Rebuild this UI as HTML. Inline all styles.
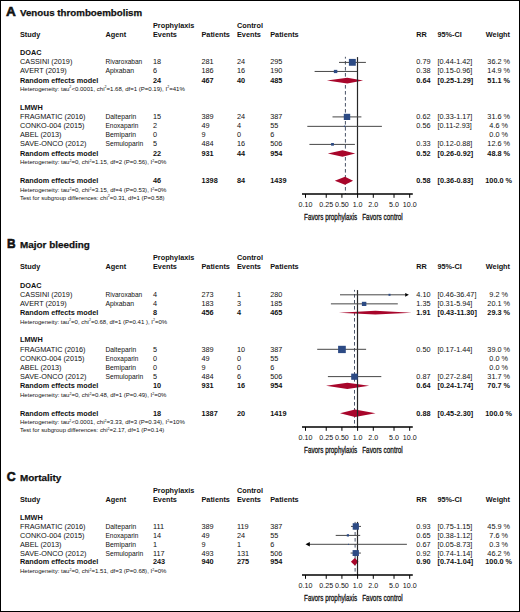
<!DOCTYPE html>
<html><head><meta charset="utf-8"><style>
html,body{margin:0;padding:0;background:#fff;}
#f{position:relative;width:518px;height:610px;border:1px solid #000;overflow:hidden;}
svg{position:absolute;left:-1px;top:-1px;}
text{font-family:"Liberation Sans",sans-serif;fill:#111;}
</style></head><body><div id="f">
<svg width="520" height="612" viewBox="0 0 520 612">
<text x="6.1" y="16" font-size="13.6" font-weight="bold" stroke="#111" stroke-width="0.6">A</text>
<text x="20" y="16" font-size="9.6" font-weight="bold" textLength="122.2" lengthAdjust="spacingAndGlyphs" stroke="#111" stroke-width="0.25">Venous thromboembolism</text>
<text x="153" y="28" font-size="7.3" font-weight="bold">Prophylaxis</text>
<text x="237" y="28" font-size="7.3" font-weight="bold">Control</text>
<text x="20" y="37" font-size="7.3" font-weight="bold">Study</text>
<text x="105.5" y="37" font-size="7.3" font-weight="bold">Agent</text>
<text x="153" y="37" font-size="7.3" font-weight="bold">Events</text>
<text x="201.5" y="37" font-size="7.3" font-weight="bold">Patients</text>
<text x="237" y="37" font-size="7.3" font-weight="bold">Events</text>
<text x="270.25" y="37" font-size="7.3" font-weight="bold">Patients</text>
<text x="416.3" y="37" font-size="7.3" font-weight="bold">RR</text>
<text x="437.5" y="37" font-size="7.3" font-weight="bold">95%-CI</text>
<text x="510" y="37" font-size="7.3" font-weight="bold" text-anchor="end">Weight</text>
<text x="20" y="55.2" font-size="7.3" font-weight="bold">DOAC</text>
<text x="20" y="64.4" font-size="7.3">CASSINI (2019)</text>
<text x="105.5" y="64.4" font-size="7.3" textLength="36.7" lengthAdjust="spacingAndGlyphs">Rivaroxaban</text>
<text x="153" y="64.4" font-size="7.3">18</text>
<text x="201.5" y="64.4" font-size="7.3">281</text>
<text x="237" y="64.4" font-size="7.3">24</text>
<text x="270.25" y="64.4" font-size="7.3">295</text>
<text x="416.3" y="64.4" font-size="7.3">0.79</text>
<text x="437.5" y="64.4" font-size="7.3">[0.44-1.42]</text>
<text x="498.7" y="64.4" font-size="7.3" text-anchor="middle">36.2 %</text>
<text x="20" y="73.3" font-size="7.3">AVERT (2019)</text>
<text x="105.5" y="73.3" font-size="7.3" textLength="28.5" lengthAdjust="spacingAndGlyphs">Apixaban</text>
<text x="153" y="73.3" font-size="7.3">6</text>
<text x="201.5" y="73.3" font-size="7.3">186</text>
<text x="237" y="73.3" font-size="7.3">16</text>
<text x="270.25" y="73.3" font-size="7.3">190</text>
<text x="416.3" y="73.3" font-size="7.3">0.38</text>
<text x="437.5" y="73.3" font-size="7.3">[0.15-0.96]</text>
<text x="498.7" y="73.3" font-size="7.3" text-anchor="middle">14.9 %</text>
<text x="20" y="82.7" font-size="7.3" font-weight="bold">Random effects model</text>
<text x="153" y="82.7" font-size="7.3" font-weight="bold">24</text>
<text x="201.5" y="82.7" font-size="7.3" font-weight="bold">467</text>
<text x="237" y="82.7" font-size="7.3" font-weight="bold">40</text>
<text x="270.25" y="82.7" font-size="7.3" font-weight="bold">485</text>
<text x="416.3" y="82.7" font-size="7.3" font-weight="bold">0.64</text>
<text x="437.5" y="82.7" font-size="7.3" font-weight="bold">[0.25-1.29]</text>
<text x="498.7" y="82.7" font-size="7.3" text-anchor="middle" font-weight="bold">51.1 %</text>
<text x="20" y="90.7" font-size="6.0" textLength="164.8" lengthAdjust="spacingAndGlyphs">Heterogeneity: tau<tspan dy="-2.3" font-size="3.6">2</tspan><tspan dy="2.3">&lt;0.0001, chi</tspan><tspan dy="-2.3" font-size="3.6">2</tspan><tspan dy="2.3">=1.68, df=1 (P=0.19), I</tspan><tspan dy="-2.3" font-size="3.6">2</tspan><tspan dy="2.3">=41%</tspan></text>
<text x="20" y="110" font-size="7.3" font-weight="bold">LMWH</text>
<text x="20" y="119.3" font-size="7.3">FRAGMATIC (2016)</text>
<text x="105.5" y="119.3" font-size="7.3" textLength="30.7" lengthAdjust="spacingAndGlyphs">Dalteparin</text>
<text x="153" y="119.3" font-size="7.3">15</text>
<text x="201.5" y="119.3" font-size="7.3">389</text>
<text x="237" y="119.3" font-size="7.3">24</text>
<text x="270.25" y="119.3" font-size="7.3">387</text>
<text x="416.3" y="119.3" font-size="7.3">0.62</text>
<text x="437.5" y="119.3" font-size="7.3">[0.33-1.17]</text>
<text x="498.7" y="119.3" font-size="7.3" text-anchor="middle">31.6 %</text>
<text x="20" y="128.3" font-size="7.3">CONKO-004 (2015)</text>
<text x="105.5" y="128.3" font-size="7.3" textLength="32.9" lengthAdjust="spacingAndGlyphs">Enoxaparin</text>
<text x="153" y="128.3" font-size="7.3">2</text>
<text x="201.5" y="128.3" font-size="7.3">49</text>
<text x="237" y="128.3" font-size="7.3">4</text>
<text x="270.25" y="128.3" font-size="7.3">55</text>
<text x="416.3" y="128.3" font-size="7.3">0.56</text>
<text x="437.5" y="128.3" font-size="7.3">[0.11-2.93]</text>
<text x="498.7" y="128.3" font-size="7.3" text-anchor="middle">4.6 %</text>
<text x="20" y="137.3" font-size="7.3">ABEL (2013)</text>
<text x="105.5" y="137.3" font-size="7.3" textLength="30.5" lengthAdjust="spacingAndGlyphs">Bemiparin</text>
<text x="153" y="137.3" font-size="7.3">0</text>
<text x="201.5" y="137.3" font-size="7.3">9</text>
<text x="237" y="137.3" font-size="7.3">0</text>
<text x="270.25" y="137.3" font-size="7.3">6</text>
<text x="498.7" y="137.3" font-size="7.3" text-anchor="middle">0.0 %</text>
<text x="20" y="146.4" font-size="7.3">SAVE-ONCO (2012)</text>
<text x="105.5" y="146.4" font-size="7.3" textLength="37.75" lengthAdjust="spacingAndGlyphs">Semuloparin</text>
<text x="153" y="146.4" font-size="7.3">5</text>
<text x="201.5" y="146.4" font-size="7.3">484</text>
<text x="237" y="146.4" font-size="7.3">16</text>
<text x="270.25" y="146.4" font-size="7.3">506</text>
<text x="416.3" y="146.4" font-size="7.3">0.33</text>
<text x="437.5" y="146.4" font-size="7.3">[0.12-0.88]</text>
<text x="498.7" y="146.4" font-size="7.3" text-anchor="middle">12.6 %</text>
<text x="20" y="155.5" font-size="7.3" font-weight="bold">Random effects model</text>
<text x="153" y="155.5" font-size="7.3" font-weight="bold">22</text>
<text x="201.5" y="155.5" font-size="7.3" font-weight="bold">931</text>
<text x="237" y="155.5" font-size="7.3" font-weight="bold">44</text>
<text x="270.25" y="155.5" font-size="7.3" font-weight="bold">954</text>
<text x="416.3" y="155.5" font-size="7.3" font-weight="bold">0.52</text>
<text x="437.5" y="155.5" font-size="7.3" font-weight="bold">[0.26-0.92]</text>
<text x="498.7" y="155.5" font-size="7.3" text-anchor="middle" font-weight="bold">48.8 %</text>
<text x="20" y="164.3" font-size="6.0" textLength="146.5" lengthAdjust="spacingAndGlyphs">Heterogeneity: tau<tspan dy="-2.3" font-size="3.6">2</tspan><tspan dy="2.3">=0, chi</tspan><tspan dy="-2.3" font-size="3.6">2</tspan><tspan dy="2.3">=1.15, df=2 (P=0.56), I</tspan><tspan dy="-2.3" font-size="3.6">2</tspan><tspan dy="2.3">=0%</tspan></text>
<text x="20" y="183" font-size="7.3" font-weight="bold">Random effects model</text>
<text x="153" y="183" font-size="7.3" font-weight="bold">46</text>
<text x="201.5" y="183" font-size="7.3" font-weight="bold">1398</text>
<text x="237" y="183" font-size="7.3" font-weight="bold">84</text>
<text x="270.25" y="183" font-size="7.3" font-weight="bold">1439</text>
<text x="416.3" y="183" font-size="7.3" font-weight="bold">0.58</text>
<text x="437.5" y="183" font-size="7.3" font-weight="bold">[0.36-0.83]</text>
<text x="498.7" y="183" font-size="7.3" text-anchor="middle" font-weight="bold">100.0 %</text>
<text x="20" y="192.2" font-size="6.0" textLength="146.5" lengthAdjust="spacingAndGlyphs">Heterogeneity: tau<tspan dy="-2.3" font-size="3.6">2</tspan><tspan dy="2.3">=0, chi</tspan><tspan dy="-2.3" font-size="3.6">2</tspan><tspan dy="2.3">=3.15, df=4 (P=0.53), I</tspan><tspan dy="-2.3" font-size="3.6">2</tspan><tspan dy="2.3">=0%</tspan></text>
<text x="20" y="199.6" font-size="6.0" textLength="144.6" lengthAdjust="spacingAndGlyphs">Test for subgroup differences: chi<tspan dy="-2.3" font-size="3.6">2</tspan><tspan dy="2.3">=0.31, df=1 (P=0.58)</tspan></text>
<rect x="344.90" y="56.80" width="1" height="1.80" fill="#4a5468"/>
<rect x="344.90" y="61.00" width="1" height="3.60" fill="#4a5468"/>
<rect x="344.90" y="67.00" width="1" height="3.60" fill="#4a5468"/>
<rect x="344.90" y="73.00" width="1" height="3.60" fill="#4a5468"/>
<rect x="344.90" y="79.00" width="1" height="3.60" fill="#4a5468"/>
<rect x="344.90" y="85.00" width="1" height="3.60" fill="#4a5468"/>
<rect x="344.90" y="91.00" width="1" height="3.60" fill="#4a5468"/>
<rect x="344.90" y="97.00" width="1" height="3.60" fill="#4a5468"/>
<rect x="344.90" y="103.00" width="1" height="3.60" fill="#4a5468"/>
<rect x="344.90" y="109.00" width="1" height="3.60" fill="#4a5468"/>
<rect x="344.90" y="115.00" width="1" height="3.60" fill="#4a5468"/>
<rect x="344.90" y="121.00" width="1" height="3.60" fill="#4a5468"/>
<rect x="344.90" y="127.00" width="1" height="3.60" fill="#4a5468"/>
<rect x="344.90" y="133.00" width="1" height="3.60" fill="#4a5468"/>
<rect x="344.90" y="139.00" width="1" height="3.60" fill="#4a5468"/>
<rect x="344.90" y="145.00" width="1" height="3.60" fill="#4a5468"/>
<rect x="344.90" y="151.00" width="1" height="3.60" fill="#4a5468"/>
<rect x="344.90" y="157.00" width="1" height="3.60" fill="#4a5468"/>
<rect x="344.90" y="163.00" width="1" height="3.60" fill="#4a5468"/>
<rect x="344.90" y="169.00" width="1" height="3.60" fill="#4a5468"/>
<rect x="344.90" y="175.00" width="1" height="3.60" fill="#4a5468"/>
<rect x="344.90" y="181.00" width="1" height="3.60" fill="#4a5468"/>
<rect x="344.90" y="187.00" width="1" height="3.60" fill="#4a5468"/>
<rect x="344.90" y="193.00" width="1" height="1.00" fill="#4a5468"/>
<polygon points="326.9,80.60 347.3,77.7 363.1,80.60 347.3,83.5" fill="#a8062b"/>
<polygon points="327.8,153.50 342.5,150.2 355.2,153.50 342.5,156.8" fill="#a8062b"/>
<polygon points="334.8,180.75 345.0,176.7 353.1,180.75 345.0,184.8" fill="#a8062b"/>
<rect x="356.90" y="57.1" width="1.2" height="136.9" fill="#262626"/>
<rect x="339.0" y="61.90" width="26.90" height="1" fill="#484848"/>
<rect x="348.9" y="58.9" width="6.90" height="6.85" fill="#2c4a84"/>
<rect x="314.6" y="70.95" width="42.60" height="1" fill="#484848"/>
<rect x="333.85" y="69.85" width="3.45" height="3.25" fill="#2c4a84"/>
<rect x="332.5" y="116.40" width="28.90" height="1" fill="#484848"/>
<rect x="343.8" y="113.8" width="6.40" height="6.20" fill="#2c4a84"/>
<rect x="307.3" y="125.85" width="74.60" height="1" fill="#484848"/>
<rect x="343.9" y="125.6" width="1.30" height="1.30" fill="#2c4a84"/>
<rect x="309.4" y="143.90" width="45.50" height="1" fill="#484848"/>
<rect x="331.1" y="143.0" width="2.80" height="2.70" fill="#2c4a84"/>
<line x1="302" y1="194" x2="412.8" y2="194" stroke="#000" stroke-width="1.3"/>
<line x1="305.5" y1="194" x2="305.5" y2="197.8" stroke="#000" stroke-width="1"/>
<text x="305.5" y="207.1" font-size="7.1" text-anchor="middle">0.10</text>
<line x1="326.2326744518132" y1="194" x2="326.2326744518132" y2="197.8" stroke="#000" stroke-width="1"/>
<text x="326.23" y="207.1" font-size="7.1" text-anchor="middle">0.25</text>
<line x1="341.9163372259066" y1="194" x2="341.9163372259066" y2="197.8" stroke="#000" stroke-width="1"/>
<text x="341.92" y="207.1" font-size="7.1" text-anchor="middle">0.50</text>
<line x1="357.6" y1="194" x2="357.6" y2="197.8" stroke="#000" stroke-width="1"/>
<text x="357.6" y="207.1" font-size="7.1" text-anchor="middle">1.0</text>
<line x1="373.28366277409344" y1="194" x2="373.28366277409344" y2="197.8" stroke="#000" stroke-width="1"/>
<text x="373.28" y="207.1" font-size="7.1" text-anchor="middle">2.0</text>
<line x1="394.0163372259066" y1="194" x2="394.0163372259066" y2="197.8" stroke="#000" stroke-width="1"/>
<text x="394.02" y="207.1" font-size="7.1" text-anchor="middle">5.0</text>
<line x1="409.70000000000005" y1="194" x2="409.70000000000005" y2="197.8" stroke="#000" stroke-width="1"/>
<text x="409.7" y="207.1" font-size="7.1" text-anchor="middle">10.0</text>
<text x="304" y="220.2" font-size="9.0" textLength="53.3" lengthAdjust="spacingAndGlyphs" stroke="#111" stroke-width="0.3">Favors prophylaxis</text>
<text x="362.2" y="220.2" font-size="9.0" textLength="40.6" lengthAdjust="spacingAndGlyphs" stroke="#111" stroke-width="0.3">Favors control</text>
<text x="7.0" y="248.4" font-size="13.6" font-weight="bold" textLength="8.6" lengthAdjust="spacingAndGlyphs" stroke="#111" stroke-width="0.6">B</text>
<text x="20" y="248.4" font-size="9.6" font-weight="bold" textLength="69.8" lengthAdjust="spacingAndGlyphs" stroke="#111" stroke-width="0.25">Major bleeding</text>
<text x="153" y="260.4" font-size="7.3" font-weight="bold">Prophylaxis</text>
<text x="237" y="260.4" font-size="7.3" font-weight="bold">Control</text>
<text x="20" y="269.3" font-size="7.3" font-weight="bold">Study</text>
<text x="105.5" y="269.3" font-size="7.3" font-weight="bold">Agent</text>
<text x="153" y="269.3" font-size="7.3" font-weight="bold">Events</text>
<text x="201.5" y="269.3" font-size="7.3" font-weight="bold">Patients</text>
<text x="237" y="269.3" font-size="7.3" font-weight="bold">Events</text>
<text x="270.25" y="269.3" font-size="7.3" font-weight="bold">Patients</text>
<text x="416.3" y="269.3" font-size="7.3" font-weight="bold">RR</text>
<text x="437.5" y="269.3" font-size="7.3" font-weight="bold">95%-CI</text>
<text x="510" y="269.3" font-size="7.3" font-weight="bold" text-anchor="end">Weight</text>
<text x="20" y="287.8" font-size="7.3" font-weight="bold">DOAC</text>
<text x="20" y="297.1" font-size="7.3">CASSINI (2019)</text>
<text x="105.5" y="297.1" font-size="7.3" textLength="36.7" lengthAdjust="spacingAndGlyphs">Rivaroxaban</text>
<text x="153" y="297.1" font-size="7.3">4</text>
<text x="201.5" y="297.1" font-size="7.3">273</text>
<text x="237" y="297.1" font-size="7.3">1</text>
<text x="270.25" y="297.1" font-size="7.3">280</text>
<text x="416.3" y="297.1" font-size="7.3">4.10</text>
<text x="437.5" y="297.1" font-size="7.3">[0.46-36.47]</text>
<text x="498.7" y="297.1" font-size="7.3" text-anchor="middle">9.2 %</text>
<text x="20" y="306" font-size="7.3">AVERT (2019)</text>
<text x="105.5" y="306" font-size="7.3" textLength="28.5" lengthAdjust="spacingAndGlyphs">Apixaban</text>
<text x="153" y="306" font-size="7.3">4</text>
<text x="201.5" y="306" font-size="7.3">183</text>
<text x="237" y="306" font-size="7.3">3</text>
<text x="270.25" y="306" font-size="7.3">185</text>
<text x="416.3" y="306" font-size="7.3">1.35</text>
<text x="437.5" y="306" font-size="7.3">[0.31-5.94]</text>
<text x="498.7" y="306" font-size="7.3" text-anchor="middle">20.1 %</text>
<text x="20" y="315.1" font-size="7.3" font-weight="bold">Random effects model</text>
<text x="153" y="315.1" font-size="7.3" font-weight="bold">8</text>
<text x="201.5" y="315.1" font-size="7.3" font-weight="bold">456</text>
<text x="237" y="315.1" font-size="7.3" font-weight="bold">4</text>
<text x="270.25" y="315.1" font-size="7.3" font-weight="bold">465</text>
<text x="416.3" y="315.1" font-size="7.3" font-weight="bold">1.91</text>
<text x="437.5" y="315.1" font-size="7.3" font-weight="bold">[0.43-11.30]</text>
<text x="498.7" y="315.1" font-size="7.3" text-anchor="middle" font-weight="bold">29.3 %</text>
<text x="20" y="323.6" font-size="6.0" textLength="147.1" lengthAdjust="spacingAndGlyphs">Heterogeneity: tau<tspan dy="-2.3" font-size="3.6">2</tspan><tspan dy="2.3">=0, chi</tspan><tspan dy="-2.3" font-size="3.6">2</tspan><tspan dy="2.3">=0.68, df=1 (P=0.41 ), I</tspan><tspan dy="-2.3" font-size="3.6">2</tspan><tspan dy="2.3">=0%</tspan></text>
<text x="20" y="342.2" font-size="7.3" font-weight="bold">LMWH</text>
<text x="20" y="351.7" font-size="7.3">FRAGMATIC (2016)</text>
<text x="105.5" y="351.7" font-size="7.3" textLength="30.7" lengthAdjust="spacingAndGlyphs">Dalteparin</text>
<text x="153" y="351.7" font-size="7.3">5</text>
<text x="201.5" y="351.7" font-size="7.3">389</text>
<text x="237" y="351.7" font-size="7.3">10</text>
<text x="270.25" y="351.7" font-size="7.3">387</text>
<text x="416.3" y="351.7" font-size="7.3">0.50</text>
<text x="437.5" y="351.7" font-size="7.3">[0.17-1.44]</text>
<text x="498.7" y="351.7" font-size="7.3" text-anchor="middle">39.0 %</text>
<text x="20" y="360.8" font-size="7.3">CONKO-004 (2015)</text>
<text x="105.5" y="360.8" font-size="7.3" textLength="32.9" lengthAdjust="spacingAndGlyphs">Enoxaparin</text>
<text x="153" y="360.8" font-size="7.3">0</text>
<text x="201.5" y="360.8" font-size="7.3">49</text>
<text x="237" y="360.8" font-size="7.3">0</text>
<text x="270.25" y="360.8" font-size="7.3">55</text>
<text x="498.7" y="360.8" font-size="7.3" text-anchor="middle">0.0 %</text>
<text x="20" y="369.8" font-size="7.3">ABEL (2013)</text>
<text x="105.5" y="369.8" font-size="7.3" textLength="30.5" lengthAdjust="spacingAndGlyphs">Bemiparin</text>
<text x="153" y="369.8" font-size="7.3">0</text>
<text x="201.5" y="369.8" font-size="7.3">9</text>
<text x="237" y="369.8" font-size="7.3">0</text>
<text x="270.25" y="369.8" font-size="7.3">6</text>
<text x="498.7" y="369.8" font-size="7.3" text-anchor="middle">0.0 %</text>
<text x="20" y="378.9" font-size="7.3">SAVE-ONCO (2012)</text>
<text x="105.5" y="378.9" font-size="7.3" textLength="37.75" lengthAdjust="spacingAndGlyphs">Semuloparin</text>
<text x="153" y="378.9" font-size="7.3">5</text>
<text x="201.5" y="378.9" font-size="7.3">484</text>
<text x="237" y="378.9" font-size="7.3">6</text>
<text x="270.25" y="378.9" font-size="7.3">506</text>
<text x="416.3" y="378.9" font-size="7.3">0.87</text>
<text x="437.5" y="378.9" font-size="7.3">[0.27-2.84]</text>
<text x="498.7" y="378.9" font-size="7.3" text-anchor="middle">31.7 %</text>
<text x="20" y="388" font-size="7.3" font-weight="bold">Random effects model</text>
<text x="153" y="388" font-size="7.3" font-weight="bold">10</text>
<text x="201.5" y="388" font-size="7.3" font-weight="bold">931</text>
<text x="237" y="388" font-size="7.3" font-weight="bold">16</text>
<text x="270.25" y="388" font-size="7.3" font-weight="bold">954</text>
<text x="416.3" y="388" font-size="7.3" font-weight="bold">0.64</text>
<text x="437.5" y="388" font-size="7.3" font-weight="bold">[0.24-1.74]</text>
<text x="498.7" y="388" font-size="7.3" text-anchor="middle" font-weight="bold">70.7 %</text>
<text x="20" y="396.9" font-size="6.0" textLength="146.5" lengthAdjust="spacingAndGlyphs">Heterogeneity: tau<tspan dy="-2.3" font-size="3.6">2</tspan><tspan dy="2.3">=0, chi</tspan><tspan dy="-2.3" font-size="3.6">2</tspan><tspan dy="2.3">=0.48, df=1 (P=0.49), I</tspan><tspan dy="-2.3" font-size="3.6">2</tspan><tspan dy="2.3">=0%</tspan></text>
<text x="20" y="415.7" font-size="7.3" font-weight="bold">Random effects model</text>
<text x="153" y="415.7" font-size="7.3" font-weight="bold">18</text>
<text x="201.5" y="415.7" font-size="7.3" font-weight="bold">1387</text>
<text x="237" y="415.7" font-size="7.3" font-weight="bold">20</text>
<text x="270.25" y="415.7" font-size="7.3" font-weight="bold">1419</text>
<text x="416.3" y="415.7" font-size="7.3" font-weight="bold">0.88</text>
<text x="437.5" y="415.7" font-size="7.3" font-weight="bold">[0.45-2.30]</text>
<text x="498.7" y="415.7" font-size="7.3" text-anchor="middle" font-weight="bold">100.0 %</text>
<text x="20" y="424.1" font-size="6.0" textLength="164.8" lengthAdjust="spacingAndGlyphs">Heterogeneity: tau<tspan dy="-2.3" font-size="3.6">2</tspan><tspan dy="2.3">&lt;0.0001, chi</tspan><tspan dy="-2.3" font-size="3.6">2</tspan><tspan dy="2.3">=3.33, df=3 (P=0.34), I</tspan><tspan dy="-2.3" font-size="3.6">2</tspan><tspan dy="2.3">=10%</tspan></text>
<text x="20" y="432.2" font-size="6.0" textLength="144.2" lengthAdjust="spacingAndGlyphs">Test for subgroup differences: chi<tspan dy="-2.3" font-size="3.6">2</tspan><tspan dy="2.3">=2.17, df=1 (P=0.14)</tspan></text>
<rect x="354.00" y="289.90" width="1" height="1.70" fill="#4a5468"/>
<rect x="354.00" y="294.00" width="1" height="3.60" fill="#4a5468"/>
<rect x="354.00" y="300.00" width="1" height="3.60" fill="#4a5468"/>
<rect x="354.00" y="306.00" width="1" height="3.60" fill="#4a5468"/>
<rect x="354.00" y="312.00" width="1" height="3.60" fill="#4a5468"/>
<rect x="354.00" y="318.00" width="1" height="3.60" fill="#4a5468"/>
<rect x="354.00" y="324.00" width="1" height="3.60" fill="#4a5468"/>
<rect x="354.00" y="330.00" width="1" height="3.60" fill="#4a5468"/>
<rect x="354.00" y="336.00" width="1" height="3.60" fill="#4a5468"/>
<rect x="354.00" y="342.00" width="1" height="3.60" fill="#4a5468"/>
<rect x="354.00" y="348.00" width="1" height="3.60" fill="#4a5468"/>
<rect x="354.00" y="354.00" width="1" height="3.60" fill="#4a5468"/>
<rect x="354.00" y="360.00" width="1" height="3.60" fill="#4a5468"/>
<rect x="354.00" y="366.00" width="1" height="3.60" fill="#4a5468"/>
<rect x="354.00" y="372.00" width="1" height="3.60" fill="#4a5468"/>
<rect x="354.00" y="378.00" width="1" height="3.60" fill="#4a5468"/>
<rect x="354.00" y="384.00" width="1" height="3.60" fill="#4a5468"/>
<rect x="354.00" y="390.00" width="1" height="3.60" fill="#4a5468"/>
<rect x="354.00" y="396.00" width="1" height="3.60" fill="#4a5468"/>
<rect x="354.00" y="402.00" width="1" height="3.60" fill="#4a5468"/>
<rect x="354.00" y="408.00" width="1" height="3.60" fill="#4a5468"/>
<rect x="354.00" y="414.00" width="1" height="3.60" fill="#4a5468"/>
<rect x="354.00" y="420.00" width="1" height="3.60" fill="#4a5468"/>
<rect x="354.00" y="426.00" width="1" height="1.00" fill="#4a5468"/>
<polygon points="338.8,312.7 375.3,310.8 411.9,312.7 375.3,314.6" fill="#a8062b"/>
<polygon points="326.0,385.85 347.3,382.7 369.2,385.85 347.3,389.0" fill="#a8062b"/>
<polygon points="340.0,413.25 355.0,409.5 375.5,413.25 355.0,417.0" fill="#a8062b"/>
<rect x="356.90" y="290.1" width="1.2" height="136.89999999999998" fill="#262626"/>
<rect x="340.0" y="294.30" width="65.50" height="1" fill="#484848"/>
<polygon points="408.9,294.8 405.2,292.90000000000003 405.2,296.7" fill="#000"/>
<rect x="388.5" y="293.8" width="2.00" height="2.00" fill="#2c4a84"/>
<rect x="330.9" y="303.35" width="66.90" height="1" fill="#484848"/>
<rect x="361.9" y="301.8" width="4.45" height="4.20" fill="#2c4a84"/>
<rect x="317.2" y="348.80" width="48.90" height="1" fill="#484848"/>
<rect x="338.1" y="345.8" width="7.70" height="7.30" fill="#2c4a84"/>
<rect x="327.9" y="376.10" width="53.40" height="1" fill="#484848"/>
<rect x="351.2" y="373.6" width="6.50" height="6.20" fill="#2c4a84"/>
<line x1="302" y1="427" x2="412.8" y2="427" stroke="#000" stroke-width="1.3"/>
<line x1="305.5" y1="427" x2="305.5" y2="430.8" stroke="#000" stroke-width="1"/>
<text x="305.5" y="440.3" font-size="7.1" text-anchor="middle">0.10</text>
<line x1="326.2326744518132" y1="427" x2="326.2326744518132" y2="430.8" stroke="#000" stroke-width="1"/>
<text x="326.23" y="440.3" font-size="7.1" text-anchor="middle">0.25</text>
<line x1="341.9163372259066" y1="427" x2="341.9163372259066" y2="430.8" stroke="#000" stroke-width="1"/>
<text x="341.92" y="440.3" font-size="7.1" text-anchor="middle">0.50</text>
<line x1="357.6" y1="427" x2="357.6" y2="430.8" stroke="#000" stroke-width="1"/>
<text x="357.6" y="440.3" font-size="7.1" text-anchor="middle">1.0</text>
<line x1="373.28366277409344" y1="427" x2="373.28366277409344" y2="430.8" stroke="#000" stroke-width="1"/>
<text x="373.28" y="440.3" font-size="7.1" text-anchor="middle">2.0</text>
<line x1="394.0163372259066" y1="427" x2="394.0163372259066" y2="430.8" stroke="#000" stroke-width="1"/>
<text x="394.02" y="440.3" font-size="7.1" text-anchor="middle">5.0</text>
<line x1="409.70000000000005" y1="427" x2="409.70000000000005" y2="430.8" stroke="#000" stroke-width="1"/>
<text x="409.7" y="440.3" font-size="7.1" text-anchor="middle">10.0</text>
<text x="304" y="453.2" font-size="9.0" textLength="53.3" lengthAdjust="spacingAndGlyphs" stroke="#111" stroke-width="0.3">Favors prophylaxis</text>
<text x="362.2" y="453.2" font-size="9.0" textLength="40.6" lengthAdjust="spacingAndGlyphs" stroke="#111" stroke-width="0.3">Favors control</text>
<text x="6.8" y="481.2" font-size="13.6" font-weight="bold" textLength="8.9" lengthAdjust="spacingAndGlyphs" stroke="#111" stroke-width="0.6">C</text>
<text x="20" y="481.2" font-size="9.6" font-weight="bold" textLength="41.3" lengthAdjust="spacingAndGlyphs" stroke="#111" stroke-width="0.25">Mortality</text>
<text x="153" y="493.2" font-size="7.3" font-weight="bold">Prophylaxis</text>
<text x="237" y="493.2" font-size="7.3" font-weight="bold">Control</text>
<text x="20" y="501.9" font-size="7.3" font-weight="bold">Study</text>
<text x="105.5" y="501.9" font-size="7.3" font-weight="bold">Agent</text>
<text x="153" y="501.9" font-size="7.3" font-weight="bold">Events</text>
<text x="201.5" y="501.9" font-size="7.3" font-weight="bold">Patients</text>
<text x="237" y="501.9" font-size="7.3" font-weight="bold">Events</text>
<text x="270.25" y="501.9" font-size="7.3" font-weight="bold">Patients</text>
<text x="416.3" y="501.9" font-size="7.3" font-weight="bold">RR</text>
<text x="437.5" y="501.9" font-size="7.3" font-weight="bold">95%-CI</text>
<text x="510" y="501.9" font-size="7.3" font-weight="bold" text-anchor="end">Weight</text>
<text x="20" y="519.8" font-size="7.3" font-weight="bold">LMWH</text>
<text x="20" y="529" font-size="7.3">FRAGMATIC (2016)</text>
<text x="105.5" y="529" font-size="7.3" textLength="30.7" lengthAdjust="spacingAndGlyphs">Dalteparin</text>
<text x="153" y="529" font-size="7.3">111</text>
<text x="201.5" y="529" font-size="7.3">389</text>
<text x="237" y="529" font-size="7.3">119</text>
<text x="270.25" y="529" font-size="7.3">387</text>
<text x="416.3" y="529" font-size="7.3">0.93</text>
<text x="437.5" y="529" font-size="7.3">[0.75-1.15]</text>
<text x="498.7" y="529" font-size="7.3" text-anchor="middle">45.9 %</text>
<text x="20" y="538" font-size="7.3">CONKO-004 (2015)</text>
<text x="105.5" y="538" font-size="7.3" textLength="32.9" lengthAdjust="spacingAndGlyphs">Enoxaparin</text>
<text x="153" y="538" font-size="7.3">14</text>
<text x="201.5" y="538" font-size="7.3">49</text>
<text x="237" y="538" font-size="7.3">24</text>
<text x="270.25" y="538" font-size="7.3">55</text>
<text x="416.3" y="538" font-size="7.3">0.65</text>
<text x="437.5" y="538" font-size="7.3">[0.38-1.12]</text>
<text x="498.7" y="538" font-size="7.3" text-anchor="middle">7.6 %</text>
<text x="20" y="547" font-size="7.3">ABEL (2013)</text>
<text x="105.5" y="547" font-size="7.3" textLength="30.5" lengthAdjust="spacingAndGlyphs">Bemiparin</text>
<text x="153" y="547" font-size="7.3">1</text>
<text x="201.5" y="547" font-size="7.3">9</text>
<text x="237" y="547" font-size="7.3">1</text>
<text x="270.25" y="547" font-size="7.3">6</text>
<text x="416.3" y="547" font-size="7.3">0.67</text>
<text x="437.5" y="547" font-size="7.3">[0.05-8.73]</text>
<text x="498.7" y="547" font-size="7.3" text-anchor="middle">0.3 %</text>
<text x="20" y="556" font-size="7.3">SAVE-ONCO (2012)</text>
<text x="105.5" y="556" font-size="7.3" textLength="37.75" lengthAdjust="spacingAndGlyphs">Semuloparin</text>
<text x="153" y="556" font-size="7.3">117</text>
<text x="201.5" y="556" font-size="7.3">493</text>
<text x="237" y="556" font-size="7.3">131</text>
<text x="270.25" y="556" font-size="7.3">506</text>
<text x="416.3" y="556" font-size="7.3">0.92</text>
<text x="437.5" y="556" font-size="7.3">[0.74-1.14]</text>
<text x="498.7" y="556" font-size="7.3" text-anchor="middle">46.2 %</text>
<text x="20" y="564" font-size="7.3" font-weight="bold">Random effects model</text>
<text x="153" y="564" font-size="7.3" font-weight="bold">243</text>
<text x="201.5" y="564" font-size="7.3" font-weight="bold">940</text>
<text x="237" y="564" font-size="7.3" font-weight="bold">275</text>
<text x="270.25" y="564" font-size="7.3" font-weight="bold">954</text>
<text x="416.3" y="564" font-size="7.3" font-weight="bold">0.90</text>
<text x="437.5" y="564" font-size="7.3" font-weight="bold">[0.74-1.04]</text>
<text x="498.7" y="564" font-size="7.3" text-anchor="middle" font-weight="bold">100.0 %</text>
<text x="20" y="573" font-size="6.0" textLength="146.5" lengthAdjust="spacingAndGlyphs">Heterogeneity: tau<tspan dy="-2.3" font-size="3.6">2</tspan><tspan dy="2.3">=0, chi</tspan><tspan dy="-2.3" font-size="3.6">2</tspan><tspan dy="2.3">=1.51, df=3 (P=0.68), I</tspan><tspan dy="-2.3" font-size="3.6">2</tspan><tspan dy="2.3">=0%</tspan></text>
<rect x="354.60" y="521.90" width="1" height="1.70" fill="#4a5468"/>
<rect x="354.60" y="526.00" width="1" height="3.60" fill="#4a5468"/>
<rect x="354.60" y="532.00" width="1" height="3.60" fill="#4a5468"/>
<rect x="354.60" y="538.00" width="1" height="3.60" fill="#4a5468"/>
<rect x="354.60" y="544.00" width="1" height="3.60" fill="#4a5468"/>
<rect x="354.60" y="550.00" width="1" height="3.60" fill="#4a5468"/>
<rect x="354.60" y="556.00" width="1" height="3.60" fill="#4a5468"/>
<rect x="354.60" y="562.00" width="1" height="3.60" fill="#4a5468"/>
<rect x="354.60" y="568.00" width="1" height="3.60" fill="#4a5468"/>
<rect x="354.60" y="574.00" width="1" height="1.00" fill="#4a5468"/>
<polygon points="350.9,561.85 354.8,558.1 358.5,561.85 354.8,565.6" fill="#a8062b"/>
<rect x="356.90" y="521.9" width="1.2" height="53.10000000000002" fill="#262626"/>
<rect x="351.0" y="525.90" width="10.00" height="1" fill="#484848"/>
<rect x="352.7" y="523.2" width="6.20" height="6.50" fill="#2c4a84"/>
<rect x="335.7" y="534.90" width="24.50" height="1" fill="#484848"/>
<rect x="346.8" y="534.2" width="2.20" height="2.30" fill="#2c4a84"/>
<rect x="309.0" y="543.80" width="97.90" height="1" fill="#484848"/>
<polygon points="305.5,544.3 309.8,542.0999999999999 309.8,546.5" fill="#000"/>
<rect x="348.0" y="543.8" width="1.00" height="1.00" fill="#2c4a84"/>
<rect x="350.6" y="552.55" width="10.30" height="1" fill="#484848"/>
<rect x="352.6" y="550.1" width="6.30" height="5.90" fill="#2c4a84"/>
<line x1="302" y1="575" x2="412.8" y2="575" stroke="#000" stroke-width="1.3"/>
<line x1="305.5" y1="575" x2="305.5" y2="578.8" stroke="#000" stroke-width="1"/>
<text x="305.5" y="588.2" font-size="7.1" text-anchor="middle">0.10</text>
<line x1="326.2326744518132" y1="575" x2="326.2326744518132" y2="578.8" stroke="#000" stroke-width="1"/>
<text x="326.23" y="588.2" font-size="7.1" text-anchor="middle">0.25</text>
<line x1="341.9163372259066" y1="575" x2="341.9163372259066" y2="578.8" stroke="#000" stroke-width="1"/>
<text x="341.92" y="588.2" font-size="7.1" text-anchor="middle">0.50</text>
<line x1="357.6" y1="575" x2="357.6" y2="578.8" stroke="#000" stroke-width="1"/>
<text x="357.6" y="588.2" font-size="7.1" text-anchor="middle">1.0</text>
<line x1="373.28366277409344" y1="575" x2="373.28366277409344" y2="578.8" stroke="#000" stroke-width="1"/>
<text x="373.28" y="588.2" font-size="7.1" text-anchor="middle">2.0</text>
<line x1="394.0163372259066" y1="575" x2="394.0163372259066" y2="578.8" stroke="#000" stroke-width="1"/>
<text x="394.02" y="588.2" font-size="7.1" text-anchor="middle">5.0</text>
<line x1="409.70000000000005" y1="575" x2="409.70000000000005" y2="578.8" stroke="#000" stroke-width="1"/>
<text x="409.7" y="588.2" font-size="7.1" text-anchor="middle">10.0</text>
<text x="304" y="601.2" font-size="9.0" textLength="53.3" lengthAdjust="spacingAndGlyphs" stroke="#111" stroke-width="0.3">Favors prophylaxis</text>
<text x="362.2" y="601.2" font-size="9.0" textLength="40.6" lengthAdjust="spacingAndGlyphs" stroke="#111" stroke-width="0.3">Favors control</text>
</svg></div></body></html>
